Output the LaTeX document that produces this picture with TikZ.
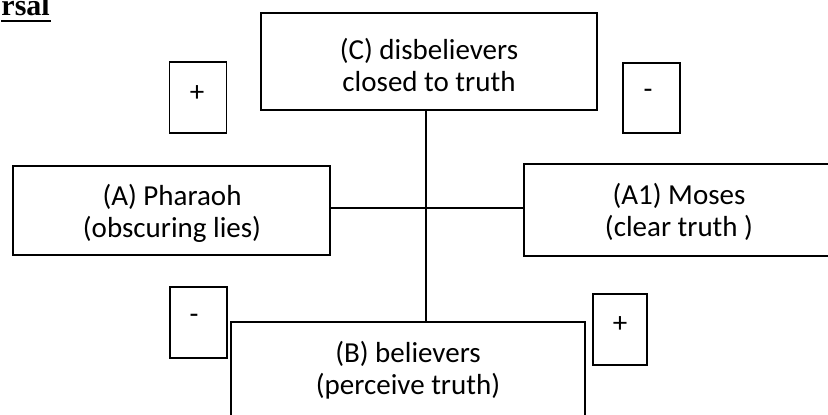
\documentclass[tikz,border=0pt]{standalone}
\usepackage{fontspec}
\setmainfont{Carlito}
\newfontfamily\titlefont{Liberation Serif}
\begin{document}
\begin{tikzpicture}[x=1bp,y=-1bp,
  box/.style={draw, rectangle, inner sep=0pt, line width=1.6bp},
  bigbox/.style={box},
  signbox/.style={box, minimum width=57bp, minimum height=71bp},
  lbl/.style={align=center, inner sep=0pt, font=\fontsize{29bp}{32bp}\selectfont},
  signtxt/.style={inner sep=0pt, font=\fontsize{29bp}{32bp}\selectfont},
  link/.style={line width=1.6bp}]
\useasboundingbox (0,0) rectangle (828,414);
\begin{scope}
\clip (0,0) rectangle (828,414);
% title fragment
\node[anchor=base east, inner sep=0pt, font=\titlefont\bfseries\fontsize{30bp}{30bp}\selectfont] (title) at (50,15) {rsal};
\draw[line width=2.5bp] (title.base west |- 0,21) -- (51,21);
% main boxes
\node[bigbox, minimum width=336bp, minimum height=97bp] (C) at (429,61.5) {};
\node[lbl] (Ct) at (429,64.5) {(C) disbelievers\\closed to truth};
\node[bigbox, minimum width=317bp, minimum height=89bp] (A) at (171.5,210.5) {};
\node[lbl] (At) at (172,213) {(A) Pharaoh\\(obscuring lies)};
\node[bigbox, minimum width=310bp, minimum height=92bp] (A1) at (679,210) {};
\node[lbl] (A1t) at (679,212) {(A1) Moses\\(clear truth )};
\node[bigbox, minimum width=354bp, minimum height=100bp] (B) at (408,372) {};
\node[lbl] (Bt) at (408,370) {(B) believers\\(perceive truth)};
% sign boxes
\node[signbox] (s1) at (198,97.5) {};
\node[signtxt] (s1t) at (197,94) {+};
\node[signbox, minimum width=57bp, minimum height=70bp] (s2) at (651.5,98) {};
\node[signtxt] (s2t) at (648,94) {-};
\node[signbox] (s3) at (198.5,322.5) {};
\node[signtxt] (s3t) at (194,319) {-};
\node[signbox, minimum width=54bp] (s4) at (620,329.5) {};
\node[signtxt] (s4t) at (620,325) {+};
% connectors
\coordinate (J) at (426,208);
\draw[link] (C.south -| J) -- (B.north -| J);
\draw[link] (A.east |- J) -- (A1.west |- J);
\end{scope}
\end{tikzpicture}
\end{document}
